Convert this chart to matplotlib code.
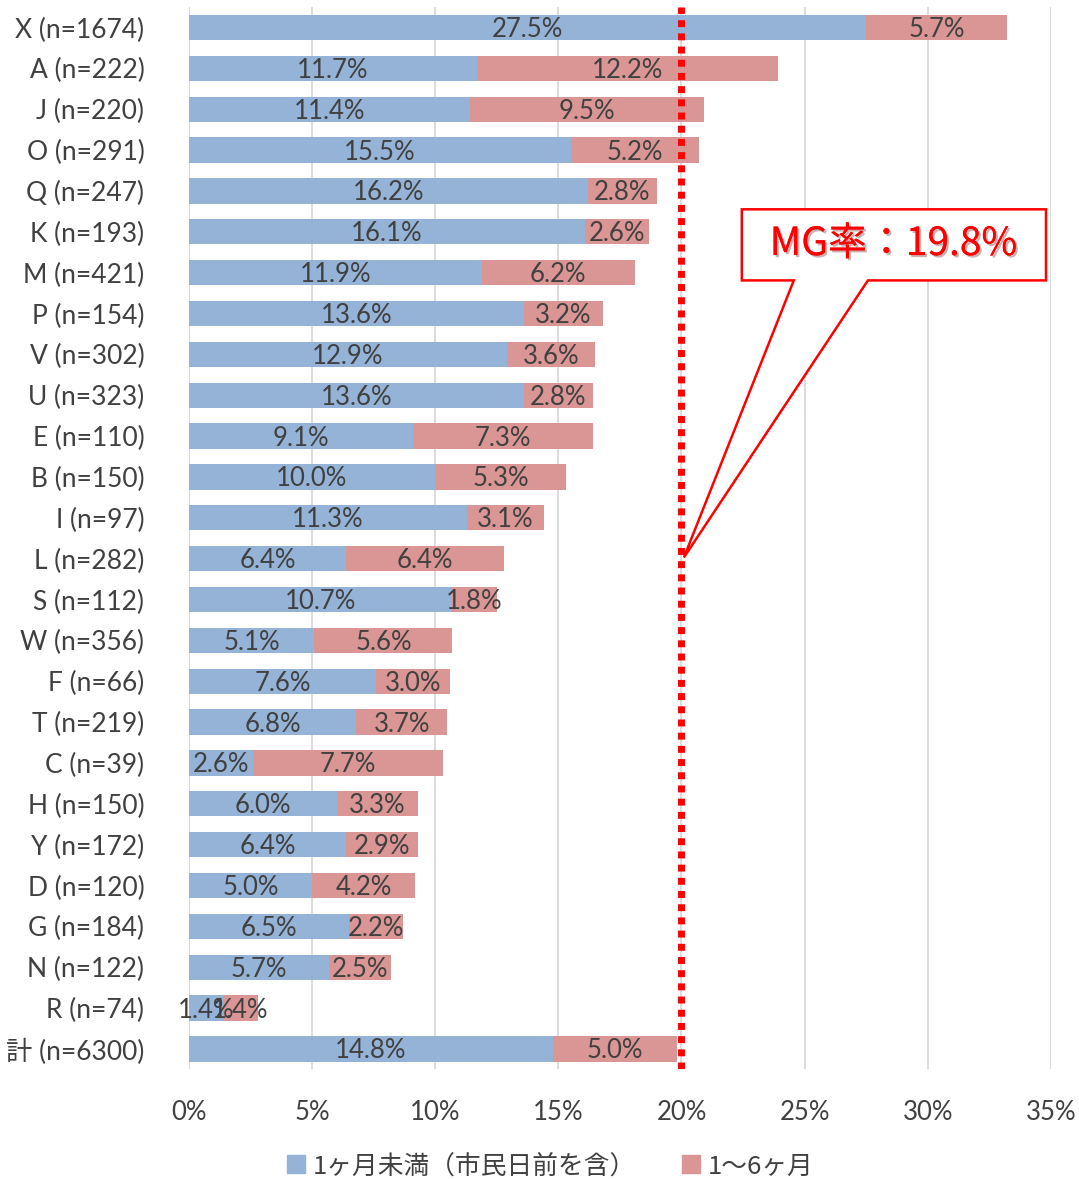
import matplotlib
matplotlib.use("Agg")
import matplotlib.pyplot as plt
import numpy as np
from matplotlib.patches import Polygon, Patch
import matplotlib.patheffects as pe

plt.rcParams['font.family'] = ['Lato', 'Noto Sans CJK JP', 'DejaVu Sans']

# data
labels = ["X (n=1674)", "A (n=222)", "J (n=220)", "O (n=291)", "Q (n=247)",
          "K (n=193)", "M (n=421)", "P (n=154)", "V (n=302)", "U (n=323)",
          "E (n=110)", "B (n=150)", "I (n=97)", "L (n=282)", "S (n=112)",
          "W (n=356)", "F (n=66)", "T (n=219)", "C (n=39)", "H (n=150)",
          "Y (n=172)", "D (n=120)", "G (n=184)", "N (n=122)", "R (n=74)",
          "計 (n=6300)"]
under_1m = [27.5, 11.7, 11.4, 15.5, 16.2, 16.1, 11.9, 13.6, 12.9, 13.6,
            9.1, 10.0, 11.3, 6.4, 10.7, 5.1, 7.6, 6.8, 2.6, 6.0,
            6.4, 5.0, 6.5, 5.7, 1.4, 14.8]
m1_6 = [5.7, 12.2, 9.5, 5.2, 2.8, 2.6, 6.2, 3.2, 3.6, 2.8,
        7.3, 5.3, 3.1, 6.4, 1.8, 5.6, 3.0, 3.7, 7.7, 3.3,
        2.9, 4.2, 2.2, 2.5, 1.4, 5.0]
series_names = ["1ヶ月未満（市民日前を含）", "1〜6ヶ月"]
mg_line = 20
mg_text = "MG率：19.8%"

blue = "#95B3D7"
red = "#DA9694"
txt = "#404040"
jp = ['Noto Sans CJK JP', 'DejaVu Sans']

fig = plt.figure(figsize=(10.79, 11.79), dpi=100)
ax = fig.add_axes([0.175, 0.093, 0.799, 0.901])

y = np.arange(len(labels))
a = np.array(under_1m)
b = np.array(m1_6)
ax.barh(y, a, height=0.62, color=blue, zorder=2)
ax.barh(y, b, left=a, height=0.62, color=red, zorder=2)

for i in range(len(labels)):
    ax.text(a[i] / 2, y[i] + 0.05, f"{a[i]:.1f}%", ha="center", va="center",
            fontsize=18.5, color=txt, zorder=3)
    ax.text(a[i] + b[i] / 2, y[i] + 0.05, f"{b[i]:.1f}%", ha="center", va="center",
            fontsize=18.5, color=txt, zorder=3)

ax.set_ylim(len(labels) - 0.5, -0.5)
ax.set_xlim(0, 35)
ax.set_yticks(y)
ax.set_yticklabels(labels, fontsize=19, color=txt)
ax.set_xticks(np.arange(0, 36, 5))
ax.set_xticklabels([f"{v}%" for v in range(0, 36, 5)], fontsize=18.5, color=txt)
ax.tick_params(length=0)
ax.tick_params(axis="x", pad=22)
ax.tick_params(axis="y", pad=32)
for s in ax.spines.values():
    s.set_visible(False)
ax.grid(axis="x", color="#D9D9D9", linewidth=1.3, zorder=0)
ax.axvline(0, color="#D9D9D9", linewidth=1.5, zorder=1)

# MG line
ax.axvline(mg_line, color="#FF0000", linewidth=5, linestyle=(0, (1, 0.9)), zorder=4)

# callout
callout = Polygon([(22.45, 4.45), (34.8, 4.45), (34.8, 6.19), (27.57, 6.19),
                   (20.1, 12.97), (24.56, 6.19), (22.45, 6.19)],
                  closed=True, facecolor="white", edgecolor="#FF0000",
                  linewidth=1.8, zorder=5)
ax.add_patch(callout)
ax.text(28.6, 5.3, mg_text, ha="center", va="center", fontsize=28,
        color="#FF0000", zorder=6, family=jp,
        path_effects=[pe.withSimplePatchShadow(offset=(1.5, -1.5), alpha=0.3),
                      pe.Normal()])

handles = [Patch(color=blue), Patch(color=red)]
fig.legend(handles, series_names, loc="lower center", bbox_to_anchor=(0.51, -0.02),
           ncol=2, frameon=False, handlelength=0.7, handleheight=0.7,
           handletextpad=0.3, columnspacing=1.8, labelcolor=txt,
           prop={'family': jp, 'size': 18.5})

fig.savefig("out.png", dpi=100)
